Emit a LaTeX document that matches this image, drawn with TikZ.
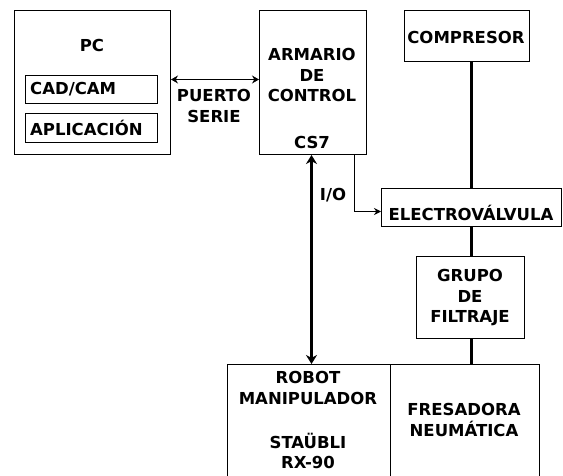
\documentclass[tikz,border=0pt]{standalone}
\usepackage{fontspec}
\setmainfont{DejaVu Sans}
\usetikzlibrary{arrows.meta}
\begin{document}
\begin{tikzpicture}[x=1pt,y=-1pt,
  box/.style={draw=black,line width=1pt,fill=none,inner sep=0pt,anchor=north west},
  lbl/.style={inner sep=0pt,align=center,font=\fontsize{16.5}{20.5}\selectfont\bfseries},
  thin/.style={line width=1pt},
  thick/.style={line width=3.5pt},
  tipthin/.style={-{Stealth[length=7pt,width=7pt]}},
  tipthick/.style={{Stealth[length=9pt,width=11pt]}-{Stealth[length=9pt,width=11pt]}}
]
\useasboundingbox (0,0) rectangle (563,476);
\clip (0,0) rectangle (563,476);
% boxes
\node[box,minimum width=156pt,minimum height=144pt] (pc) at (14,10) {};
\node[box,minimum width=132pt,minimum height=28pt] (cadcam) at (25,75) {};
\node[box,minimum width=132pt,minimum height=29pt] (aplic) at (25,113) {};
\node[box,minimum width=107pt,minimum height=144pt] (armario) at (259,10) {};
\node[box,minimum width=125pt,minimum height=51pt] (compresor) at (404,10) {};
\node[box,minimum width=180pt,minimum height=38pt] (electro) at (381,188) {};
\node[box,minimum width=108pt,minimum height=82pt] (grupo) at (416,256) {};
\node[box,minimum width=163pt,minimum height=130pt] (robot) at (227,364) {};
\node[box,minimum width=149pt,minimum height=130pt] (fresadora) at (390,364) {};
% texts
\node[lbl] (tpc) at (92,45) {PC};
\node[lbl,anchor=west] (tcad) at (30,89) {CAD/CAM};
\node[lbl,anchor=west] (tapl) at (30,128) {APLICACIÓN};
\node[lbl] (tpuerto) at (214,106) {PUERTO\\SERIE};
\node[lbl] (tarm) at (312,75) {ARMARIO\\DE\\CONTROL};
\node[lbl] (tcs) at (312,142) {CS7};
\node[lbl] (tcomp) at (466,37) {COMPRESOR};
\node[lbl] (tio) at (333,195) {I/O};
\node[lbl] (telec) at (471,213) {ELECTROVÁLVULA};
\node[lbl] (tgrupo) at (470,298) {GRUPO\\DE\\FILTRAJE};
\node[lbl] (trobot) at (308,388) {ROBOT\\MANIPULADOR};
\node[lbl] (tstau) at (308,451) {STAÜBLI\\RX-90};
\node[lbl] (tfres) at (464,420) {FRESADORA\\NEUMÁTICA};
% connectors
\draw[thin,{Stealth[length=7pt,width=8pt]}-{Stealth[length=7pt,width=8pt]}] ([yshift=3pt]pc.east) -- ([yshift=3pt]armario.west);
\draw[thick,tipthick] ([xshift=-1.5pt]armario.south) -- ([xshift=-1.5pt]armario.south |- robot.north);
\draw[thin,tipthin] ([xshift=41.5pt]armario.south) |- ([yshift=-4pt]electro.west);
\draw[thick] (electro.north |- compresor.south) -- (electro.north);
\draw[thick] (electro.south) -- (electro.south |- grupo.north);
\draw[thick] (electro.south |- grupo.south) -- (electro.south |- fresadora.north);
\end{tikzpicture}
\end{document}
